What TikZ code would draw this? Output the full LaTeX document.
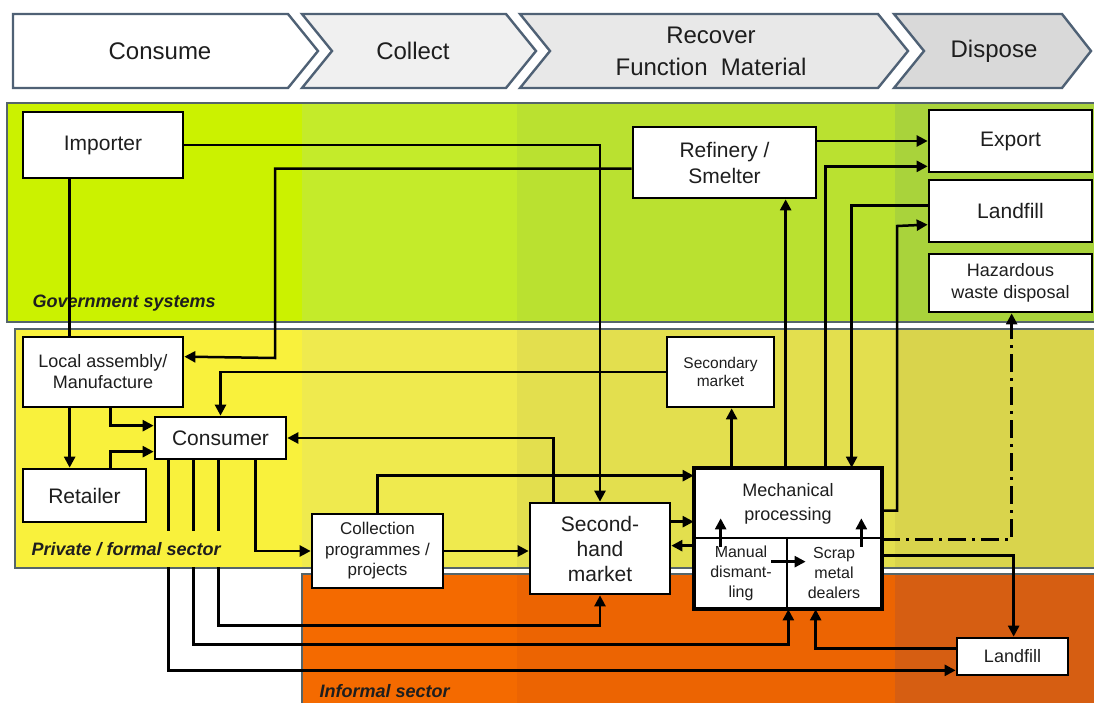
\documentclass[tikz,border=0pt]{standalone}
\usepackage{fontspec}
\setmainfont{Liberation Sans}
\usetikzlibrary{arrows.meta,calc}
\definecolor{gA}{HTML}{CBF200}
\definecolor{gB}{HTML}{C4EB2A}
\definecolor{gC}{HTML}{BAE130}
\definecolor{gD}{HTML}{A9D33B}
\definecolor{yA}{HTML}{F9F13C}
\definecolor{yB}{HTML}{EFEA4E}
\definecolor{yC}{HTML}{E3DF4E}
\definecolor{yD}{HTML}{D9D44C}
\definecolor{oA}{HTML}{F46A00}
\definecolor{oB}{HTML}{EC6402}
\definecolor{oC}{HTML}{D65E12}
\definecolor{bandline}{HTML}{55656A}
\definecolor{hdrline}{HTML}{4F6175}
\definecolor{txt}{HTML}{1E1E1E}
\newcommand{\myfs}[2]{\fontsize{#1}{#2}\selectfont}
\begin{document}
\begin{tikzpicture}[x=1pt,y=-1pt,
  box/.style={draw=black, line width=2.7pt, fill=white, inner sep=0pt, align=center, text=txt},
  arr/.style={line width=2.5pt, -{Triangle[length=11pt,width=11pt]}},
  ln/.style={line width=2.5pt},
  band/.style={draw=bandline, line width=1.8pt},
  hdr/.style={draw=hdrline, line width=2.4pt, line join=miter},
  htxt/.style={font=\myfs{24}{32}, text=txt, align=center},
  blab/.style={font=\myfs{18}{20}\bfseries\itshape, anchor=base west, text=txt}
]
\useasboundingbox (0,0) rectangle (1094,703);
\fill[white] (0,0) rectangle (1094,703);

% ---------- header chevrons ----------
\draw[hdr, fill=white] (13,14) -- (288,14) -- (318,51) -- (288,88) -- (13,88) -- cycle;
\draw[hdr, fill=black!6] (302,14) -- (506,14) -- (536,51) -- (506,88) -- (302,88) -- (332,51) -- cycle;
\draw[hdr, fill=black!9] (520,14) -- (878,14) -- (908,51) -- (878,88) -- (520,88) -- (550,51) -- cycle;
\draw[hdr, fill=black!15] (894,14) -- (1062,14) -- (1091,51) -- (1062,88) -- (894,88) -- (924,51) -- cycle;
\node[htxt] (hcons) at (160,51) {Consume};
\node[htxt] (hcoll) at (413,51) {Collect};
\node[htxt] (hrec) at (711,51) {Recover\\Function~~Material};
\node[htxt] (hdisp) at (994,51) {Dispose};

% ---------- bands ----------
\fill[gA] (7,103) rectangle (302,322);
\fill[gB] (302,103) rectangle (517,322);
\fill[gC] (517,103) rectangle (895,322);
\fill[gD] (895,103) rectangle (1094,322);
\draw[band] (7,103) rectangle (1097,322);

\fill[yA] (15,329) rectangle (302,568);
\fill[yB] (302,329) rectangle (517,568);
\fill[yC] (517,329) rectangle (895,568);
\fill[yD] (895,329) rectangle (1094,568);
\draw[band] (15,329) rectangle (1097,568);

\fill[oA] (302,574) rectangle (517,705);
\fill[oB] (517,574) rectangle (895,705);
\fill[oC] (895,574) rectangle (1094,705);
\draw[band] (1097,574) -- (302,574) -- (302,706);

\node[blab] (lgov) at (29,307) {Government systems};
\node[blab] (linf) at (316,697) {Informal sector};

% ---------- nodes ----------
\node[box, minimum width=160pt, minimum height=66pt, font=\myfs{21}{25}] (imp) at (103,145) {Importer};
\node[box, minimum width=183pt, minimum height=71pt, font=\myfs{21}{26}] (ref) at (724.5,162.5) {Refinery /\\Smelter};
\node[box, minimum width=163pt, minimum height=62pt, font=\myfs{21}{25}] (exp) at (1010.5,141) {Export};
\node[box, minimum width=163pt, minimum height=62pt, font=\myfs{21}{25}] (lfa) at (1010.5,211) {Landfill};
\node[box, minimum width=163pt, minimum height=58pt, font=\myfs{18}{22}] (haz) at (1010.5,283) {Hazardous\\waste disposal};
\node[box, minimum width=160pt, minimum height=70pt, font=\myfs{18}{21}] (loc) at (103,372) {Local assembly/\\Manufacture};
\node[box, minimum width=131pt, minimum height=42pt, font=\myfs{21}{25}] (con) at (220.5,438) {Consumer};
\node[box, minimum width=123pt, minimum height=53pt, font=\myfs{21}{25}] (ret) at (84.5,495.5) {Retailer};
\node[box, minimum width=107pt, minimum height=70pt, font=\myfs{15.5}{18.5}] (sec) at (720.5,372) {Secondary\\market};
\node[box, minimum width=131pt, minimum height=74pt, font=\myfs{17}{20.5}] (col) at (377.5,551) {Collection\\programmes /\\projects};
\node[box, minimum width=140pt, minimum height=91pt, font=\myfs{21}{25}] (shm) at (600,548.5) {Second-\\hand\\market};
\node[box, minimum width=186pt, minimum height=69pt, font=\myfs{18}{24}] (mp) at (788,503.5) {Mechanical\\processing};
\node[box, minimum width=92pt, minimum height=70pt, font=\myfs{16}{20}] (man) at (741,573) {Manual\\dismant-\\ling};
\node[box, minimum width=94pt, minimum height=70pt, font=\myfs{16}{20}] (scr) at (834,573) {Scrap\\metal\\dealers};
\draw[line width=4pt] (mp.north west) rectangle (scr.south east);
\node[box, minimum width=111pt, minimum height=37pt, font=\myfs{18}{22}] (lfb) at (1012.5,656.5) {Landfill};

% ---------- connectors ----------
\draw[arr] (imp.east) -| (shm.north);
\draw[ln] ($(imp.south west)+(48,0)$) -- ($(loc.north west)+(48,0)$);
\draw[arr] ($(ref.north west)+(0,43)$) -| (275,358) -- ($(loc.north east)+(0,21)$);
\draw[arr] (ref.east |- exp.west) -- (exp.west);
\draw[arr] ($(mp.north west)+(132,0)$) |- ($(exp.south west)+(0,-7)$);
\draw[arr] ($(lfa.north west)+(0,27)$) -| ($(mp.north west)+(158,0)$);
\draw[arr] ($(mp.north east)+(0,43)$) -| (897,226) -- ($(lfa.north west)+(0,46)$);
\draw[arr, dash pattern=on 18pt off 6pt on 3pt off 6pt] (mp.south east) -| ($(haz.south west)+(84,0)$);
\draw[arr] ($(mp.north west)+(92,0)$) -- ($(ref.south west)+(154,0)$);
\draw[arr] ($(mp.north west)+(38,0)$) -- ($(sec.south west)+(66,0)$);
\draw[arr] (sec.west) -| (con.north);
\draw[arr] ($(loc.south west)+(89,0)$) |- ($(con.north west)+(0,10)$);
\draw[arr] ($(loc.south west)+(48,0)$) -- ($(ret.north west)+(48,0)$);
\draw[arr] ($(ret.north west)+(89,0)$) |- ($(con.north west)+(0,36)$);
\draw[arr] ($(con.south west)+(102,0)$) |- (col.west);
\draw[arr] (col.east) -- (col.east -| shm.west);
\draw[arr] (col.north) |- ($(mp.north west)+(0,8)$);
\draw[arr] ($(shm.north west)+(25,0)$) |- (con.east);
\draw[arr] ($(shm.north east)+(0,20)$) -- ($(mp.north west)+(0,54)$);
\draw[arr] ($(man.north west)+(0,9)$) -- ($(shm.north east)+(0,44)$);
\draw[arr] ($(con.south west)+(65,0)$) |- ($(shm.south)+(0,30)$) -- (shm.south);
\draw[arr] ($(con.south west)+(40,0)$) |- ($(man.south east)+(0,35)$) -- (man.south east);
\draw[arr] ($(con.south west)+(15,0)$) |- ($(lfb.south west)+(0,-6)$);
\draw[arr] ($(lfb.north west)+(0,12)$) -| ($(scr.south west)+(30,0)$);
\draw[arr] ($(scr.north east)+(0,19)$) -| ($(lfb.north west)+(58,0)$);
\draw[arr] ($(man.north west)+(27,10)$) -- ($(mp.south west)+(27,-21)$);
\draw[arr] ($(scr.north east)+(-21,10)$) -- ($(mp.south east)+(-21,-21)$);
\draw[arr] ($(man.north east)+(-17,25)$) -- ($(scr.north west)+(20,25)$);

% label of the private band sits over the consumer lines
\fill[yA] (26,531) rectangle (226,566.5);
\node[blab] (lpriv) at (28,555) {Private / formal sector};
\end{tikzpicture}
\end{document}
